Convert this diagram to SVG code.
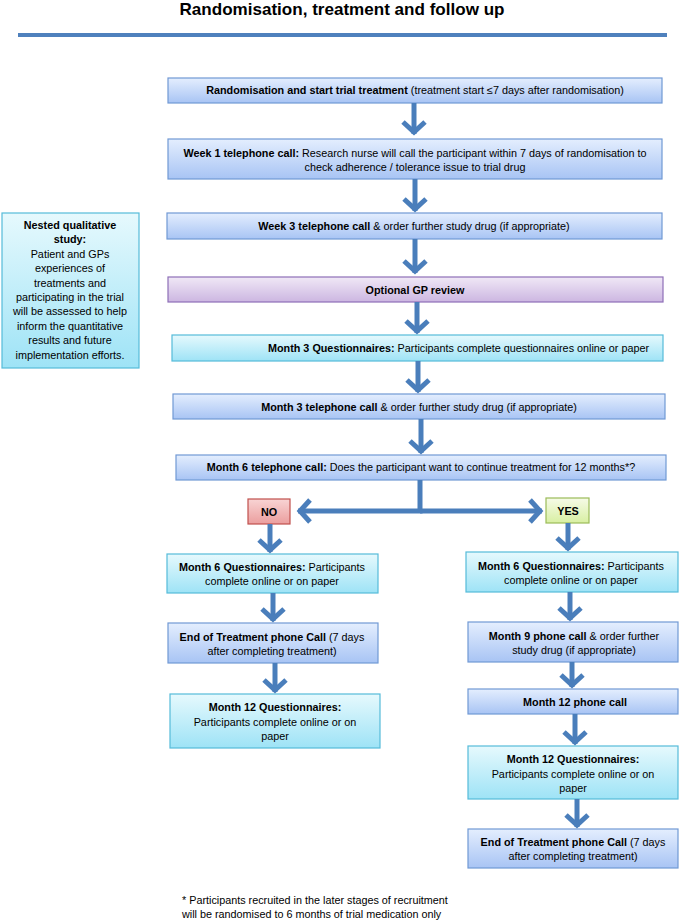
<svg xmlns="http://www.w3.org/2000/svg" width="685" height="924" viewBox="0 0 685 924">
<defs>
<linearGradient id="gBlue" x1="0" y1="0" x2="0" y2="1"><stop offset="0" stop-color="#e4eefe"/><stop offset="1" stop-color="#a8c4f4"/></linearGradient>
<linearGradient id="gCyan" x1="0" y1="0" x2="0" y2="1"><stop offset="0" stop-color="#e6f9fd"/><stop offset="1" stop-color="#9ee3f6"/></linearGradient>
<linearGradient id="gPurple" x1="0" y1="0" x2="0" y2="1"><stop offset="0" stop-color="#f0e8f6"/><stop offset="1" stop-color="#ccb6e1"/></linearGradient>
<linearGradient id="gRed" x1="0" y1="0" x2="0" y2="1"><stop offset="0" stop-color="#f8d4d4"/><stop offset="1" stop-color="#eb9e9e"/></linearGradient>
<linearGradient id="gGreen" x1="0" y1="0" x2="0" y2="1"><stop offset="0" stop-color="#f6fbe8"/><stop offset="1" stop-color="#d8efa2"/></linearGradient>
<marker id="ah" markerUnits="userSpaceOnUse" viewBox="-16 -15 20 30" refX="0" refY="0" markerWidth="20" markerHeight="30" orient="auto">
<path d="M-12,-11 L-2,0 L-12,11" fill="none" stroke="#4a7ebb" stroke-width="5"/>
</marker>
</defs>
<style>
text{font-family:"Liberation Sans",Arial,sans-serif;font-size:10.8px;fill:#000;}
.c{text-anchor:middle;}
.b{font-weight:bold;}
.blue{fill:url(#gBlue);stroke:#7199d4;stroke-width:1.2;}
.cyan{fill:url(#gCyan);stroke:#55bbd9;stroke-width:1.2;}
.purple{fill:url(#gPurple);stroke:#8e6fb7;stroke-width:1.2;}
.red{fill:url(#gRed);stroke:#c0504d;stroke-width:1.2;}
.green{fill:url(#gGreen);stroke:#9bbb59;stroke-width:1.2;}
.conn path{fill:none;stroke:#4a7ebb;stroke-width:5;marker-end:url(#ah);}
</style>
<rect width="685" height="924" fill="#fff"/>
<g id="title">
<text x="342" y="15" class="c b" style="font-size:17px" textLength="325" lengthAdjust="spacingAndGlyphs">Randomisation, treatment and follow up</text>
<rect x="18" y="33" width="649" height="4" fill="#4f81bd"/>
</g>
<g id="n1"><rect x="168" y="78" width="494" height="25" class="blue"/>
<text x="415" y="94" class="c"><tspan class="b">Randomisation and start trial treatment</tspan> (treatment start ≤7 days after randomisation)</text></g>
<g id="n2"><rect x="168" y="139" width="494" height="40" class="blue"/>
<text x="415" y="156.5" class="c"><tspan class="b">Week 1 telephone call:</tspan> Research nurse will call the participant within 7 days of randomisation to</text>
<text x="415" y="170.5" class="c">check adherence / tolerance issue to trial drug</text></g>
<g id="n3"><rect x="167" y="213" width="495" height="26" class="blue"/>
<text x="414" y="230" class="c"><tspan class="b">Week 3 telephone call</tspan> &amp; order further study drug (if appropriate)</text></g>
<g id="n4"><rect x="168" y="277" width="495" height="25" class="purple"/>
<text x="415" y="294" class="c b">Optional GP review</text></g>
<g id="n5"><rect x="172" y="335" width="491" height="26" class="cyan"/>
<text x="268" y="352"><tspan class="b">Month 3 Questionnaires:</tspan>  Participants complete questionnaires online or paper</text></g>
<g id="n6"><rect x="173" y="394" width="492" height="25" class="blue"/>
<text x="419" y="411" class="c"><tspan class="b">Month 3 telephone call</tspan> &amp; order further study drug (if appropriate)</text></g>
<g id="n7"><rect x="176" y="455" width="490" height="25" class="blue"/>
<text x="421" y="471" class="c"><tspan class="b">Month 6 telephone call:</tspan> Does the participant want to continue treatment for 12 months*?</text></g>
<g id="nNo"><rect x="248" y="499" width="42" height="25" class="red"/>
<text x="269" y="515.5" class="c b">NO</text></g>
<g id="nYes"><rect x="546" y="498" width="43" height="25" class="green"/>
<text x="568" y="515" class="c b">YES</text></g>
<g id="side"><rect x="2" y="213" width="137" height="155" class="cyan"/>
<text x="70" y="229" class="c b">Nested qualitative</text>
<text x="70" y="243.4" class="c b">study:</text>
<text x="70" y="257.8" class="c">Patient and GPs</text>
<text x="70" y="272.2" class="c">experiences of</text>
<text x="70" y="286.6" class="c">treatments and</text>
<text x="70" y="301" class="c">participating in the trial</text>
<text x="70" y="315.4" class="c">will be assessed to help</text>
<text x="70" y="329.8" class="c">inform the quantitative</text>
<text x="70" y="344.2" class="c">results and future</text>
<text x="70" y="358.6" class="c">implementation efforts.</text></g>
<g id="l1"><rect x="167" y="554" width="211" height="39" class="cyan"/>
<text x="272" y="571" class="c"><tspan class="b">Month 6 Questionnaires:</tspan>  Participants</text>
<text x="272" y="585" class="c">complete online or on paper</text></g>
<g id="l2"><rect x="168" y="623" width="210" height="40" class="blue"/>
<text x="272" y="641" class="c"><tspan class="b">End of Treatment phone Call</tspan> (7 days</text>
<text x="272" y="655" class="c">after completing treatment)</text></g>
<g id="l3"><rect x="170" y="694" width="210" height="54" class="cyan"/>
<text x="275" y="711" class="c b">Month 12 Questionnaires:</text>
<text x="275" y="725.5" class="c">Participants complete online or on</text>
<text x="275" y="740" class="c">paper</text></g>
<g id="r1"><rect x="466" y="552" width="212" height="40" class="cyan"/>
<text x="571" y="570" class="c"><tspan class="b">Month 6 Questionnaires:</tspan>  Participants</text>
<text x="571" y="584" class="c">complete online or on paper</text></g>
<g id="r2"><rect x="468" y="622" width="210" height="40" class="blue"/>
<text x="574" y="640" class="c"><tspan class="b">Month 9 phone call</tspan> &amp; order further</text>
<text x="574" y="654" class="c">study drug (if appropriate)</text></g>
<g id="r3"><rect x="468" y="689" width="210" height="25" class="blue"/>
<text x="575" y="705.5" class="c b">Month 12 phone call</text></g>
<g id="r4"><rect x="468" y="746" width="210" height="53" class="cyan"/>
<text x="573" y="763" class="c b">Month 12 Questionnaires:</text>
<text x="573" y="777.5" class="c">Participants complete online or on</text>
<text x="573" y="792" class="c">paper</text></g>
<g id="r5"><rect x="468" y="829" width="210" height="39" class="blue"/>
<text x="573" y="846" class="c"><tspan class="b">End of Treatment phone Call</tspan> (7 days</text>
<text x="573" y="860" class="c">after completing treatment)</text></g>
<g id="footnote">
<text x="182" y="904">* Participants recruited in the later stages of recruitment</text>
<text x="182" y="918">will be randomised to 6 months of trial medication only</text></g>
<g id="connectors" class="conn">
<path d="M414,103 V134"/>
<path d="M415,179 V211"/>
<path d="M415,239 V273"/>
<path d="M417,302 V333"/>
<path d="M418,361 V392"/>
<path d="M421,419 V453"/>
<path d="M420,480 V511 H298"/>
<path d="M420,511 H542"/>
<path d="M270,524 V552"/>
<path d="M273,593 V621"/>
<path d="M275,663 V692"/>
<path d="M568,523 V550"/>
<path d="M570,592 V620"/>
<path d="M572,662 V687"/>
<path d="M575,714 V744"/>
<path d="M577,799 V827"/>
</g>
</svg>
